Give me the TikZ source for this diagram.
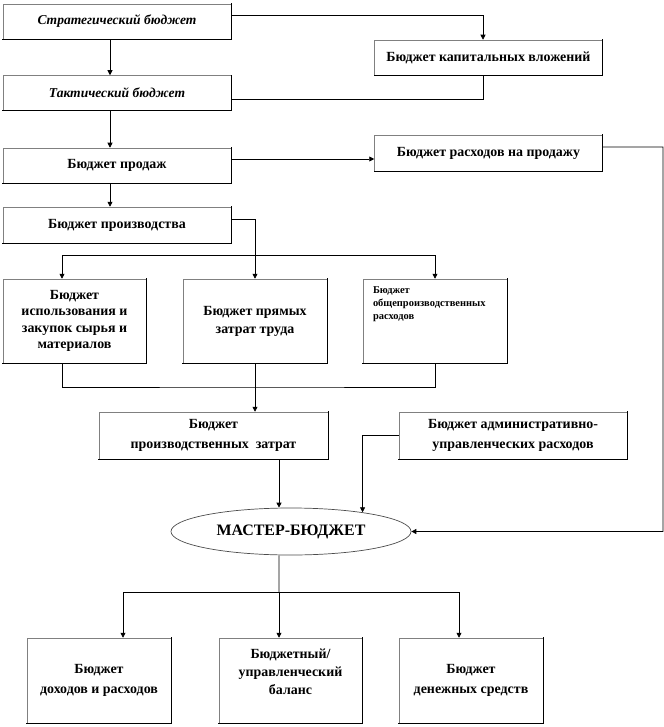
\documentclass[tikz,border=0pt]{standalone}
\usepackage{fontspec}
\setmainfont{Liberation Serif}
\usetikzlibrary{arrows.meta,shapes.geometric}
\begin{document}
\begin{tikzpicture}[x=1bp,y=-1bp,
  box/.style={draw=black!50, line width=0.5bp, fill=white, align=center, inner sep=0pt,
              font=\bfseries\fontsize{14}{18}\selectfont},
  itbox/.style={font=\bfseries\itshape\fontsize{13.6}{18}\selectfont},
  wide/.style={box, minimum width=228bp, minimum height=35bp},
  tall/.style={box, minimum width=144bp, minimum height=84bp},
  twoline/.style={font=\bfseries\fontsize{14}{20}\selectfont},
  ln/.style={line width=0.8bp, draw=black},
  arr/.style={ln, -{Triangle[length=5bp,width=5bp]}},
  edgeline/.style={line width=1bp, draw=black, line cap=rect}]
\useasboundingbox (0,0) rectangle (664,727);

% nodes
\node[wide, itbox] (strat) at (117,21.5) {Стратегический бюджет};
\node[wide] (cap) at (488.5,57.5) {Бюджет капитальных вложений};
\node[wide, itbox] (tact) at (117,93) {Тактический бюджет};
\node[wide] (sales) at (117,165.5) {Бюджет продаж};
\node[wide, minimum height=36bp] (sexp) at (488.5,153) {Бюджет расходов на продажу};
\node[wide, minimum height=36bp] (prod) at (117,225) {Бюджет производства};
\node[tall, minimum width=143bp, font=\bfseries\fontsize{14}{16.5}\selectfont] (raw) at (74.5,321)
  {Бюджет\\использования и\\закупок сырья и\\материалов};
\node[tall] (labor) at (255,321) {Бюджет прямых\\затрат труда};
\node[tall] (ovh) at (435,321)
  {\parbox[c][84bp][t]{124bp}{\raggedright\fontsize{10.5}{13.5}\selectfont
   \rule{0pt}{14bp}Бюджет\\общепроизводственных\\расходов}};
\node[box, twoline, minimum width=229bp, minimum height=47bp] (pc) at (213.5,435.5)
  {Бюджет\\производственных\ \ затрат};
\node[box, twoline, minimum width=228bp, minimum height=47bp] (adm) at (513,435.5)
  {Бюджет административно-\\управленческих расходов};
\node[ellipse, draw=black!70, line width=0.7bp, fill=white, minimum width=240bp, minimum height=47bp,
      inner sep=0pt, font=\bfseries\fontsize{16}{18}\selectfont] (ell) at (291,531.5) {МАСТЕР-БЮДЖЕТ};
\node[tall, twoline, minimum height=85bp] (inc) at (99,680.5) {Бюджет\\доходов и расходов};
\node[tall, minimum width=143bp, minimum height=85bp] (bal) at (290.5,680.5)
  {Бюджетный/\\управленческий\\баланс\\\phantom{Б}};
\node[tall, twoline, minimum height=85bp] (cash) at (471,680.5) {Бюджет\\денежных средств};

% shadow-like right and bottom edges
\foreach \n in {strat,cap,tact,sales,sexp,prod,raw,labor,ovh,pc,adm,inc,bal,cash}
  \draw[edgeline] (\n.north east) -- (\n.south east) -- (\n.south west);

% connectors
\draw[arr] ([yshift=6.5bp]strat.east) -| ([xshift=-5.5bp]cap.north);
\draw[ln] ([xshift=-5.5bp]cap.south) |- ([yshift=-6bp]tact.east);
\draw[arr] ([xshift=-7bp]strat.south) -- ([xshift=-7bp]tact.north);
\draw[arr] ([xshift=-7bp]tact.south) -- ([xshift=-7bp]sales.north);
\draw[arr] ([xshift=-7bp]sales.south) -- ([xshift=-7bp]prod.north);
\draw[arr] ([yshift=6.5bp]sales.east) -- ([yshift=6.5bp]sales.east -| sexp.west);
\coordinate (rc) at (663,147);
\draw[arr] ([yshift=6bp]sexp.east) -- (rc) |- (ell.east);

\draw[arr] ([yshift=6bp]prod.east) -| (labor.north);
\coordinate (split) at (255,255);
\draw[arr] (split) -| ([xshift=-12.5bp]raw.north);
\draw[arr] (split) -| (ovh.north);
\coordinate (join) at (255,387);
\draw[ln] ([xshift=-12.5bp]raw.south) |- (join) -| (ovh.south);
\draw[arr] (labor.south) -- (labor.south |- pc.north);

\draw[arr] ([xshift=65.5bp]pc.south) -- ([xshift=65.5bp]pc.south |- ell.north);
\draw[arr] (adm.west) -| (ell.15);

\coordinate (bsplit) at (279,592);
\draw[ln] ([xshift=-12bp]ell.south) -- (bsplit);
\draw[arr] (bsplit) -| ([xshift=24bp]inc.north);
\draw[arr] (bsplit) -- (bsplit |- bal.north);
\draw[arr] (bsplit) -| ([xshift=-12bp]cash.north);
\end{tikzpicture}
\end{document}
